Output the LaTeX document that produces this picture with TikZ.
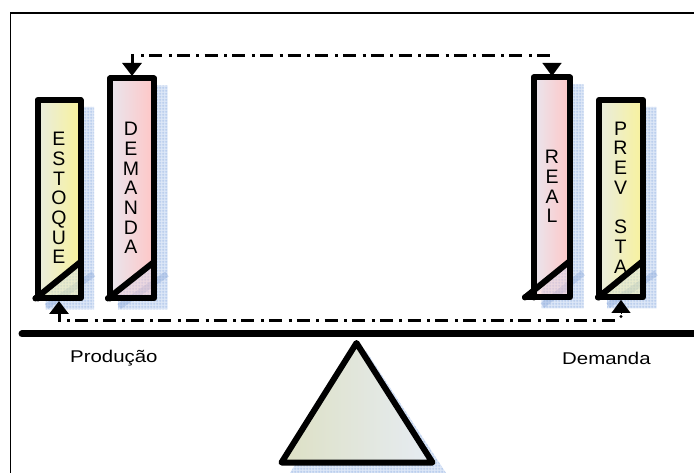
\documentclass[tikz,border=0pt]{standalone}
\usepackage{fontspec}
\setmainfont{Liberation Sans}
\usetikzlibrary{arrows.meta,patterns,calc}
\definecolor{shadeblue}{HTML}{DDE7F7}
\definecolor{meshblue}{HTML}{ABC3E9}
\definecolor{bandblue}{HTML}{7F9FD6}
\definecolor{pinkL}{HTML}{E9E6EE}
\definecolor{pinkR}{HTML}{FFC6C6}
\definecolor{yelL}{HTML}{E9ECDF}
\definecolor{yelR}{HTML}{F8F29C}
\definecolor{triL}{HTML}{DDE0C4}
\definecolor{triR}{HTML}{E6ECF3}
\pgfdeclarepatternformonly{fmesh}{\pgfpointorigin}{\pgfpoint{3pt}{3pt}}{\pgfpoint{3pt}{3pt}}{%
  \pgfsetlinewidth{0.7pt}
  \pgfpathmoveto{\pgfpoint{0pt}{1.5pt}}\pgfpathlineto{\pgfpoint{3pt}{1.5pt}}
  \pgfpathmoveto{\pgfpoint{1.5pt}{0pt}}\pgfpathlineto{\pgfpoint{1.5pt}{3pt}}
  \pgfusepath{stroke}}
\tikzset{
  shadowfill/.style={fill=shadeblue},
  shadowmesh/.style={pattern=fmesh,pattern color=meshblue},
  outline/.style={draw=black,line width=6pt,line join=round,line cap=round},
  barletters/.style={align=center,inner sep=0pt,font=\fontsize{19.5}{19.7}\selectfont},
  caption/.style={inner sep=0pt,font=\fontsize{17}{20}\selectfont,xscale=1.2,transform shape},
  flow/.style={line width=3pt,dash pattern=on 3pt off 5.2pt on 13pt off 6.5pt},
  solidshaft/.style={line width=3pt,-{Triangle[length=13pt,width=19pt]}},
  headonly/.style={line width=0.1pt,-{Triangle[length=13pt,width=19pt]}},
}
% #1 x0, #2 x1, #3 top, #4 bottom, #5 diagonal y at right, #6 left end of diagonal, #7 left colour, #8 right colour
\newcommand{\tallbar}[8]{%
  \path[shadowfill] ({#1+10},{#3+7}) -- ({#2+13.5},{#3+7}) -- ({#2+13.5},{#4+11}) -- ({#1+8},{#4+11}) -- cycle;
  \path[shadowmesh] ({#1+10},{#3+7}) -- ({#2+13.5},{#3+7}) -- ({#2+13.5},{#4+11}) -- ({#1+8},{#4+11}) -- cycle;
  \draw[bandblue,opacity=.35,line width=6pt] ({#1+9},{#4+8}) -- ({#2+13},{#5+12});
  \path[left color=#7,right color=#8] (#1,#3) -- (#2,#3) -- (#2,#5) -- (#1,#4) -- cycle;
  \path[fill=#8,opacity=.45] (#1,#4) -- (#2,#5) -- (#2,#4) -- cycle;
  \draw[outline] (#6,#4) -- (#2,#4) -- (#2,#3) -- (#1,#3) -- (#1,#4);
  \draw[outline] (#6,#4) -- (#2,#5);
}
\begin{document}
\begin{tikzpicture}[x=1pt,y=-1pt]
\useasboundingbox (0,0) rectangle (694,473);
% frame
\draw[line width=1.6pt] (10.5,473) -- (10.5,13) -- (694,13);
% bars
\tallbar{37.5}{80.5}{100}{298.5}{262}{35.5}{yelL}{yelR}
\tallbar{110}{154}{78.5}{298.5}{262}{108}{pinkL}{pinkR}
\tallbar{533.5}{570}{77.5}{297.5}{261}{525}{pinkL}{pinkR}
\tallbar{599}{643}{100}{297.5}{261}{598}{yelL}{yelR}
% bar labels
\node[barletters] (estoque) at (59,198) {E\\S\\T\\O\\Q\\U\\E};
\node[barletters] (demanda) at (131,188) {D\\E\\M\\A\\N\\D\\A};
\node[barletters] (real) at (552,186.5) {R\\E\\A\\L};
\node[barletters] (prevista) at (620.5,197.5) {P\\R\\E\\V\\ \\S\\T\\A};
% connector ends
\coordinate (demTop) at (132,76);
\coordinate (realTop) at (552,76);
\coordinate (estBase) at (59,301);
\coordinate (prevBase) at (621,300);
% top connector
\draw[flow] (141,55.5) -- (realTop |- 0,55.5);
\draw[solidshaft] (demTop |- 0,54) -- (demTop);
\draw[headonly] (realTop |- 0,63) -- (realTop);
% bottom connector
\draw[flow] (67,321) -- (617,321);
\fill (prevBase |- 0,316.5) circle (1.6);
\draw[solidshaft] (estBase |- 0,322) -- (estBase);
\draw[headonly] (prevBase |- 0,313) -- (prevBase);
% beam
\draw[line width=7pt,line cap=round] (22,334) -- (700,334);
% captions
\begin{scope}
\clip (60,340) rectangle (156.5,375);
\node[caption,anchor=west] (producao) at (70,358) {Produção};
\end{scope}
\node[caption,anchor=west] (demcap) at (562,358) {Demanda};
% fulcrum
\path[shadowfill] (366,351) -- (446,473) -- (290,473) -- cycle;
\path[shadowmesh] (366,351) -- (446,473) -- (290,473) -- cycle;
\path[left color=triL,right color=triR] (356.5,343) -- (432.5,462.5) -- (281.5,462.5) -- cycle;
\draw[outline] (356.5,343) -- (432.5,462.5) -- (281.5,462.5) -- cycle;
\end{tikzpicture}
\end{document}
